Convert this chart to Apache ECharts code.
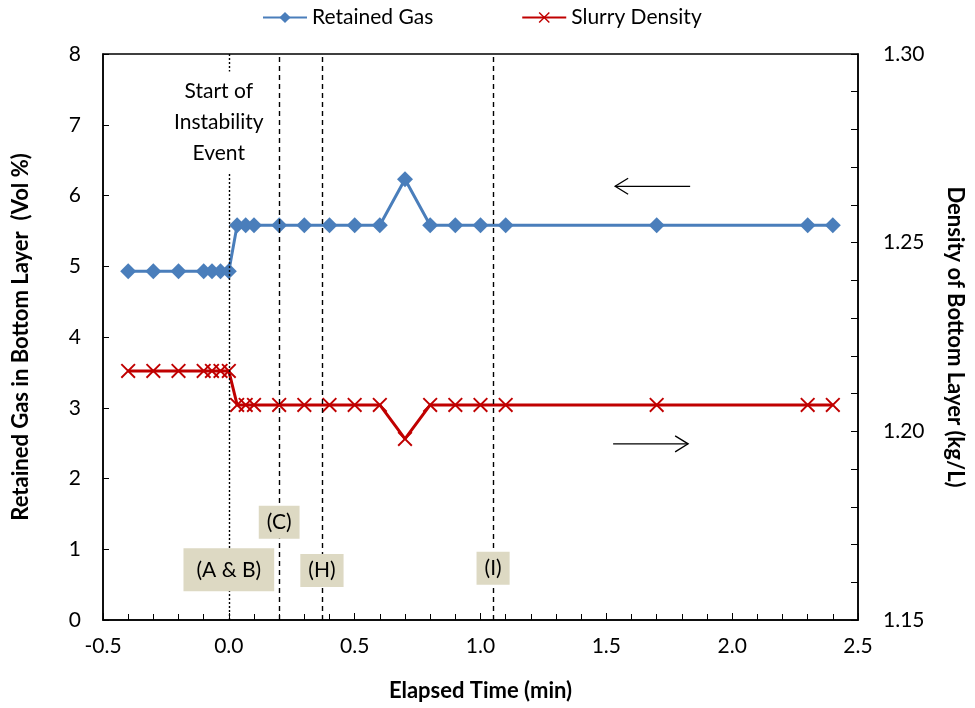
<!DOCTYPE html>
<html><head><meta charset="utf-8">
<script src="https://cdn.jsdelivr.net/npm/echarts@6/dist/echarts.min.js"></script>
<style>html,body{margin:0;padding:0;background:#fff}#c{width:975px;height:708px}</style>
</head><body><div id="c"></div>
<script>
// ---- data ----
const times = [-0.4, -0.3, -0.2, -0.1, -0.067, -0.033, 0, 0.033, 0.067, 0.1, 0.2, 0.3, 0.4, 0.5, 0.6, 0.7, 0.8, 0.9, 1.0, 1.1, 1.7, 2.3, 2.4];
const retainedGas = [4.93, 4.93, 4.93, 4.93, 4.93, 4.93, 4.93, 5.58, 5.58, 5.58, 5.58, 5.58, 5.58, 5.58, 5.58, 6.23, 5.58, 5.58, 5.58, 5.58, 5.58, 5.58, 5.58];
const slurryDensity = [1.216, 1.216, 1.216, 1.216, 1.216, 1.216, 1.216, 1.207, 1.207, 1.207, 1.207, 1.207, 1.207, 1.207, 1.207, 1.198, 1.207, 1.207, 1.207, 1.207, 1.207, 1.207, 1.207];
const eventTimes = [0, 0.2, 0.37, 1.05];
const eventLabels = ['(A & B)', '(C)', '(H)', '(I)'];
const eventLabelLevels = [0.71, 1.38, 0.70, 0.73];
const startText = 'Start of\nInstability\nEvent';
const startTextPos = [-0.04, 7.04];
const gasArrow = {y: 6.13, from: 1.833, to: 1.535};
const densArrow = {y: 2.49, from: 1.527, to: 1.825};

const FONT = 'Lato, "Noto Sans", sans-serif';
const BLUE = '#4a7ebb';
const RED = '#c00000';
const crossPath = 'path://M0,0.9L0.9,0L10,9.1L9.1,10Z M9.1,0L10,0.9L0.9,10L0,9.1Z';

const chart = echarts.init(document.getElementById('c'), null, {renderer: 'canvas'});

const gasData = times.map((t, i) => [t, retainedGas[i]]);
const densData = times.map((t, i) => [t, slurryDensity[i]]);

const markLineData = eventTimes.map((t, i) => ({
  xAxis: t,
  lineStyle: i === 0 ? {type: [2, 2], width: 1.4, color: '#000'} : {type: [5, 4], width: 1.4, color: '#000'}
}));

chart.setOption({
  animation: false,
  textStyle: {fontFamily: FONT},
  grid: {left: 103, right: 117, top: 54, bottom: 88, show: true, borderColor: '#000', borderWidth: 1.5, containLabel: false, outerBoundsMode: 'none'},
  legend: {
    top: 2, left: 257, itemWidth: 44, itemHeight: 14, itemGap: 88,
    textStyle: {fontSize: 21, color: '#000', fontFamily: FONT},
    data: ['Retained Gas', 'Slurry Density']
  },
  xAxis: {
    type: 'value', min: -0.5, max: 2.5, interval: 0.5,
    name: 'Elapsed Time (min)', nameLocation: 'middle', nameGap: 60,
    nameTextStyle: {fontSize: 22, fontWeight: 'bold', color: '#000', fontFamily: FONT},
    axisLine: {onZero: false, lineStyle: {color: '#000', width: 1.5}},
    axisTick: {inside: true, length: 7, lineStyle: {color: '#000'}},
    minorTick: {show: true, splitNumber: 5, length: 6, lineStyle: {color: '#000'}},
    splitLine: {show: false},
    axisLabel: {margin: 16, fontSize: 21, color: '#000', fontFamily: FONT, formatter: v => v.toFixed(1)}
  },
  yAxis: [{
    type: 'value', min: 0, max: 8, interval: 1, position: 'left',
    name: 'Retained Gas in Bottom Layer  (Vol %)', nameLocation: 'middle', nameGap: 71, nameRotate: 90,
    nameTextStyle: {fontSize: 22, fontWeight: 'bold', color: '#000', fontFamily: FONT},
    axisLine: {show: true, onZero: false, lineStyle: {color: '#000', width: 1.5}},
    axisTick: {show: true, inside: true, length: 6, lineStyle: {color: '#000'}},
    splitLine: {show: false},
    axisLabel: {margin: 22, fontSize: 21, color: '#000', fontFamily: FONT}
  }, {
    type: 'value', min: 1.15, max: 1.30, interval: 0.05, position: 'right',
    name: 'Density of Bottom Layer (kg/L)', nameLocation: 'middle', nameGap: 86, nameRotate: -90,
    nameTextStyle: {fontSize: 22, fontWeight: 'bold', color: '#000', fontFamily: FONT},
    axisLine: {show: true, onZero: false, lineStyle: {color: '#000', width: 1.5}},
    axisTick: {show: true, inside: true, length: 7, lineStyle: {color: '#000'}},
    minorTick: {show: true, splitNumber: 5, length: 7, lineStyle: {color: '#000'}},
    splitLine: {show: false},
    axisLabel: {margin: 25, fontSize: 21, color: '#000', fontFamily: FONT, formatter: v => v.toFixed(2)}
  }],
  series: [{
    name: 'Retained Gas', type: 'line', yAxisIndex: 0, data: gasData,
    symbol: 'diamond', symbolSize: 16,
    lineStyle: {color: BLUE, width: 3}, itemStyle: {color: BLUE},
    z: 3,
    markLine: {
      silent: true, symbol: ['none', 'none'], animation: false,
      label: {show: false},
      data: markLineData
    }
  }, {
    name: 'Slurry Density', type: 'line', yAxisIndex: 1, data: densData,
    symbol: crossPath, symbolSize: 15,
    lineStyle: {color: RED, width: 3}, itemStyle: {color: RED},
    z: 3
  }]
});

function px(x, y) { return chart.convertToPixel({xAxisIndex: 0, yAxisIndex: 0}, [x, y]); }

const graphics = [];
const sp = px(startTextPos[0], startTextPos[1]);
graphics.push({
  type: 'text', x: sp[0], y: sp[1], z: 10,
  style: {
    text: startText, fill: '#000', font: '21px ' + FONT, lineHeight: 31,
    align: 'center', verticalAlign: 'middle', backgroundColor: '#fff', padding: [4, 2, 4, 2]
  }
});
eventTimes.forEach((t, i) => {
  const p = px(t, eventLabelLevels[i]);
  const wide = eventLabels[i].length > 4;
  graphics.push({
    type: 'text', x: p[0], y: p[1], z: 10,
    style: {
      text: eventLabels[i], fill: '#000', font: '21px ' + FONT,
      align: 'center', verticalAlign: 'middle', backgroundColor: '#ddd9c3',
      padding: wide ? [17, 13, 5, 13] : [6, 8, 6, 8]
    }
  });
});
function arrow(a) {
  const p1 = px(a.from, a.y), p2 = px(a.to, a.y);
  graphics.push({type: 'line', z: 10, shape: {x1: p1[0], y1: p1[1], x2: p2[0], y2: p2[1]}, style: {stroke: '#000', lineWidth: 1.3}});
  const dir = p2[0] > p1[0] ? -1 : 1;
  graphics.push({type: 'polyline', z: 10, shape: {points: [[p2[0] + dir * 13, p2[1] - 8], [p2[0], p2[1]], [p2[0] + dir * 13, p2[1] + 8]]}, style: {stroke: '#000', lineWidth: 1.3, fill: null}});
}
arrow(gasArrow);
arrow(densArrow);
chart.setOption({graphic: graphics});
</script>
</body></html>
